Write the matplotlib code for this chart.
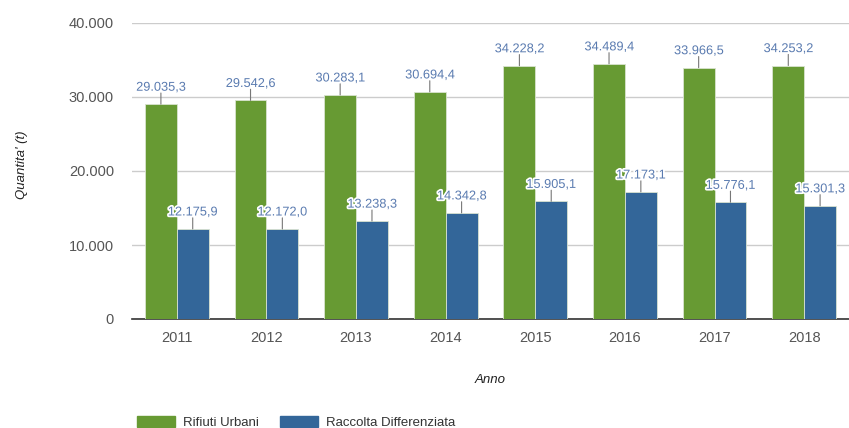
import matplotlib
matplotlib.use("Agg")
import matplotlib.pyplot as plt
import matplotlib.patheffects as pe
import numpy as np

years = ["2011", "2012", "2013", "2014", "2015", "2016", "2017", "2018"]
rifiuti_urbani = [29035.3, 29542.6, 30283.1, 30694.4, 34228.2, 34489.4, 33966.5, 34253.2]
raccolta_diff = [12175.9, 12172.0, 13238.3, 14342.8, 15905.1, 17173.1, 15776.1, 15301.3]
series_names = ["Rifiuti Urbani", "Raccolta Differenziata"]
yticks = [0, 10000, 20000, 30000, 40000]
ytick_labels = ["0", "10.000", "20.000", "30.000", "40.000"]

GREEN = "#679a33"
BLUE = "#336699"
LABEL = "#5a7bb0"

plt.rcParams["font.family"] = ["Liberation Sans", "DejaVu Sans"]

fig = plt.figure(figsize=(8.49, 4.28), dpi=100)
ax = fig.add_axes([132 / 849, 1 - 319 / 428, 1 - 132 / 849, (319 - 23) / 428])

x = np.arange(len(years))
w = 0.355


def fmt(v):
    s = f"{v:,.1f}"
    return s.replace(",", "X").replace(".", ",").replace("X", ".")


for offset, vals, col in [(-w / 2, rifiuti_urbani, GREEN), (w / 2, raccolta_diff, BLUE)]:
    ax.bar(x + offset, vals, width=w, color=col, edgecolor="#d9e3d0", linewidth=0.6, zorder=3)
    for xi, v in zip(x + offset, vals):
        ax.annotate("", xy=(xi, v), xytext=(0, 8), textcoords="offset points",
                    arrowprops=dict(arrowstyle="-", color="#777777", lw=0.8,
                                    shrinkA=0, shrinkB=0), zorder=4)
        t = ax.annotate(fmt(v), xy=(xi, v), xytext=(0, 7.5), textcoords="offset points",
                        ha="center", va="bottom", fontsize=9.2, color=LABEL, zorder=5)
        t.set_path_effects([pe.withStroke(linewidth=2.5, foreground="white")])

ax.set_xlim(-0.5, len(years) - 0.5)
ax.set_ylim(0, 40000)
ax.set_yticks(yticks)
ax.set_yticklabels(ytick_labels)
ax.set_xticks(x)
ax.set_xticklabels(years)
ax.yaxis.grid(True, color="#cccccc", linewidth=1, zorder=0)
ax.set_axisbelow(True)
for s in ["top", "right", "left"]:
    ax.spines[s].set_visible(False)
ax.spines["bottom"].set_color("#333333")
ax.spines["bottom"].set_linewidth(1.2)
ax.tick_params(axis="both", length=0, labelsize=10.5, colors="#555555")
ax.tick_params(axis="y", pad=13)
ax.tick_params(axis="x", pad=9)

fig.text(22 / 849, 1 - 165 / 428, "Quantita' (t)", rotation=90, ha="center", va="center",
         fontsize=9.5, style="italic", color="#222222")
fig.text(490 / 849, 1 - 380 / 428, "Anno", ha="center", va="center",
         fontsize=9.5, style="italic", color="#222222")

handles = [plt.Rectangle((0, 0), 1, 1, color=GREEN), plt.Rectangle((0, 0), 1, 1, color=BLUE)]
fig.legend(handles, series_names, loc="lower left", bbox_to_anchor=(125 / 849, -0.03),
           ncol=2, frameon=False, fontsize=9.5, handlelength=2.9, handleheight=1.0,
           handletextpad=0.6, columnspacing=1.6, labelcolor="#333333")

fig.savefig("out.png", dpi=100)
